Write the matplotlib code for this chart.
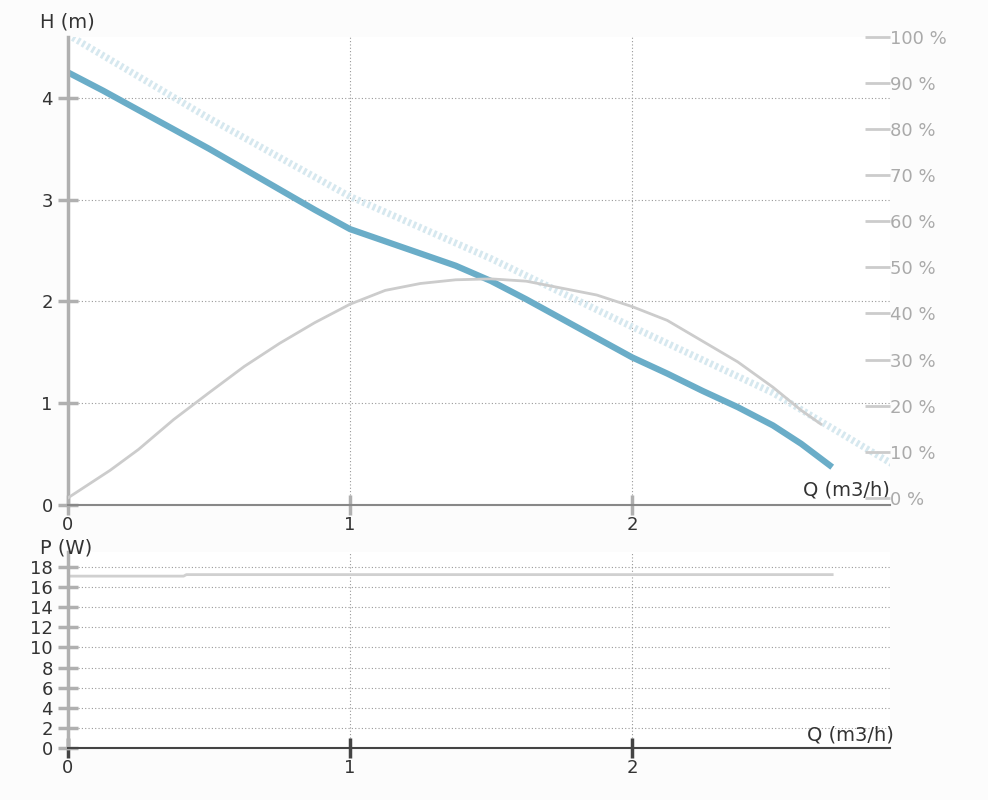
import matplotlib
matplotlib.use("Agg")
import matplotlib.pyplot as plt
import numpy as np

q_head = [0, 0.125, 0.25, 0.375, 0.5, 0.625, 0.75, 0.875, 1.0, 1.125, 1.25, 1.375, 1.5, 1.625, 1.75, 1.875, 2.0, 2.125, 2.25, 2.375, 2.5, 2.6, 2.71]
h_head = [4.25, 4.07, 3.88, 3.69, 3.5, 3.3, 3.1, 2.9, 2.71, 2.59, 2.47, 2.35, 2.2, 2.02, 1.83, 1.64, 1.45, 1.29, 1.12, 0.96, 0.78, 0.6, 0.37]
q_max = [0, 0.5, 1.0, 1.5, 2.0, 2.5, 2.93]
h_max = [4.62, 3.8, 3.03, 2.42, 1.75, 1.1, 0.39]
q_eff = [0, 0.15, 0.25, 0.375, 0.5, 0.625, 0.75, 0.875, 1.0, 1.125, 1.25, 1.375, 1.5, 1.625, 1.75, 1.875, 2.0, 2.125, 2.25, 2.375, 2.5, 2.6, 2.67]
eff = [0, 6, 10.5, 17, 22.8, 28.5, 33.5, 38, 42, 45, 46.5, 47.3, 47.5, 47, 45.5, 44, 41.5, 38.5, 34, 29.5, 24, 19, 16]
q_pow = [0, 0.41, 0.42, 2.71]
p_pow = [17.1, 17.1, 17.25, 17.25]
pct_ticks = list(range(0, 101, 10))

fig = plt.figure(figsize=(9.88, 8), dpi=100, facecolor="#fcfcfc")
grid_kw = dict(color="#999999", linestyle=(0, (1, 2)), linewidth=0.8)
spine_c = "#b0b0b0"

ax = fig.add_axes([0.0688, 0.369, 0.832, 0.585])
ax.set_facecolor("white")
ax.set_xlim(0, 2.915)
ax.set_ylim(0, 4.6)
ax.plot(q_max, h_max, color="#d6e8ef", lw=5, linestyle=(0, (0.4, 0.4)))
ax.plot(q_head, h_head, color="#6aadc8", lw=4.5, solid_capstyle="butt")
ax.set_xticks([0, 1, 2]); ax.set_yticks([0, 1, 2, 3, 4])
ax.grid(True, **grid_kw)
for s in ["top", "right"]:
    ax.spines[s].set_visible(False)
ax.spines["left"].set_color(spine_c); ax.spines["left"].set_linewidth(2.5)
ax.spines["bottom"].set_color("#888888"); ax.spines["bottom"].set_linewidth(1.5)
ax.tick_params(axis="y", direction="inout", length=14, width=2.5, color=spine_c, labelsize=13, labelcolor="#333333", pad=4)
ax.tick_params(axis="x", direction="inout", length=14, width=2.5, color=spine_c, labelsize=13, labelcolor="#333333", pad=1)
ax.text(-0.1, 4.75, "H (m)", fontsize=14, color="#333333", ha="left", va="center", clip_on=False)
ax.text(2.915, 0.05, "Q (m3/h)", fontsize=14, color="#333333", ha="right", va="bottom")

ax2 = ax.twinx()
ax2.set_ylim(-1.5, 97.5)
ax2.plot(q_eff, eff, color="#cccccc", lw=2)
ax2.set_yticks(pct_ticks)
ax2.set_yticklabels([f"{p} %" for p in pct_ticks])
for s in ax2.spines.values():
    s.set_visible(False)
ax2.tick_params(axis="y", direction="in", length=18, width=2, color="#cccccc", labelsize=13, labelcolor="#aaaaaa", pad=0)

bx = fig.add_axes([0.0688, 0.065, 0.832, 0.245])
bx.set_facecolor("white")
bx.set_xlim(0, 2.915)
bx.set_ylim(0, 19.5)
bx.plot(q_pow, p_pow, color="#d0d0d0", lw=2)
bx.set_xticks([0, 1, 2]); bx.set_yticks(range(0, 19, 2))
bx.grid(True, **grid_kw)
for s in ["top", "right"]:
    bx.spines[s].set_visible(False)
bx.spines["left"].set_color(spine_c); bx.spines["left"].set_linewidth(2.5)
bx.spines["bottom"].set_color("#444444"); bx.spines["bottom"].set_linewidth(1.5)
bx.tick_params(axis="y", direction="inout", length=14, width=2.5, color=spine_c, labelsize=13, labelcolor="#333333", pad=4)
bx.tick_params(axis="x", direction="inout", length=14, width=2.5, color="#444444", labelsize=13, labelcolor="#333333", pad=1)
bx.text(-0.1, 19.9, "P (W)", fontsize=14, color="#333333", ha="left", va="center", clip_on=False)
bx.text(2.93, 0.3, "Q (m3/h)", fontsize=14, color="#333333", ha="right", va="bottom", clip_on=False)

fig.savefig("out.png", dpi=100, facecolor=fig.get_facecolor())
